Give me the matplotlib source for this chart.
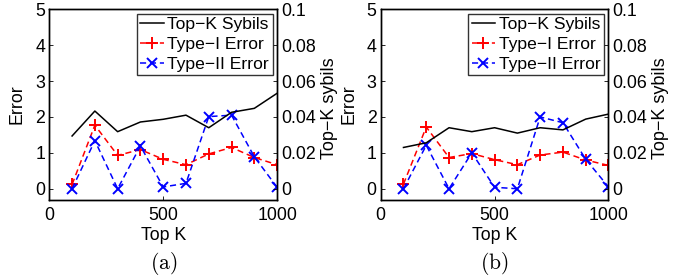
import matplotlib
matplotlib.use("Agg")
import matplotlib.pyplot as plt

plt.rcParams['font.family'] = ['Liberation Sans', 'DejaVu Sans']
plt.rcParams['mathtext.fontset'] = 'cm'

top_k = [100, 200, 300, 400, 500, 600, 700, 800, 900, 1000]

# Panel (a)
sybils_a = [0.0294, 0.0433, 0.0318, 0.0372, 0.0387, 0.0410, 0.0340, 0.0426, 0.0448, 0.0532]
type1_a = [0.12, 1.77, 0.93, 1.09, 0.82, 0.67, 0.97, 1.15, 0.87, 0.67]
type2_a = [0.00, 1.34, 0.00, 1.19, 0.05, 0.15, 2.01, 2.05, 0.89, 0.04]

# Panel (b)
sybils_b = [0.0230, 0.0256, 0.0340, 0.0318, 0.0340, 0.0310, 0.0340, 0.0328, 0.0388, 0.0416]
type1_b = [0.13, 1.72, 0.87, 0.98, 0.81, 0.67, 0.94, 1.02, 0.80, 0.65]
type2_b = [0.00, 1.21, 0.00, 1.00, 0.04, 0.00, 2.00, 1.84, 0.82, 0.05]

left_ticks = [0, 1, 2, 3, 4, 5]
right_ticks = [0, 0.02, 0.04, 0.06, 0.08, 0.1]
right_labels = ['0', '0.02', '0.04', '0.06', '0.08', '0.1']
x_ticks = [0, 500, 1000]
captions = ['(a)', '(b)']

fig = plt.figure(figsize=(6.91, 2.80), dpi=100)
lefts = [49.3 / 691, 380.7 / 691]
width = 227.8 / 691
bottom = (280 - 199.5) / 280
height = (199.5 - 9.3) / 280

panels = [(sybils_a, type1_a, type2_a), (sybils_b, type1_b, type2_b)]
fs = 12.8
for i, (syb, t1, t2) in enumerate(panels):
    ax = fig.add_axes([lefts[i], bottom, width, height])
    ax2 = ax.twinx()
    l0, = ax2.plot(top_k, syb, color='black', lw=1.1, label='Top\u2212K Sybils')
    l1, = ax.plot(top_k, t1, color='red', ls='--', lw=1.1, marker='+', ms=9, mew=1.4,
                  label='Type\u2212I Error', dashes=(4, 2.5))
    l2, = ax.plot(top_k, t2, color='blue', ls='--', lw=1.1, marker='x', ms=6.5, mew=1.4,
                  label='Type\u2212II Error', dashes=(4, 2.5))
    ax.set_xlim(0, 1000)
    ax.set_ylim(-0.3, 5)
    ax2.set_ylim(-0.006, 0.1)
    ax.set_yticks(left_ticks)
    ax.set_yticklabels([str(t) for t in left_ticks])
    ax2.set_yticks(right_ticks)
    ax2.set_yticklabels(right_labels)
    ax.set_xticks(x_ticks)
    ax.tick_params(direction='in', labelsize=fs, length=3, width=0.6, pad=3)
    ax.tick_params(axis='x', pad=5.5)
    ax2.tick_params(direction='in', labelsize=fs, length=3, width=0.6, pad=3)
    ax.set_xlabel('Top K', fontsize=fs)
    ax.xaxis.set_label_coords(0.5, -0.145)
    ax.set_ylabel('Error', fontsize=fs)
    ax.yaxis.set_label_coords(-0.14, 0.5)
    ax2.set_ylabel('Top\u2212K sybils', fontsize=13, va='center')
    ax2.yaxis.set_label_coords(1.228, 0.48)
    ax.yaxis.label.set_va('center')
    for s in ax.spines.values():
        s.set_linewidth(1.0)
    for s in ax2.spines.values():
        s.set_linewidth(1.0)
    leg = ax2.legend([l0, l1, l2], [l0.get_label(), l1.get_label(), l2.get_label()],
                     loc='upper right', fontsize=12.6, frameon=True, fancybox=False,
                     edgecolor='black', borderpad=0.2, labelspacing=0.25,
                     handlelength=1.36, handletextpad=0.2, borderaxespad=0.25)
    leg.get_frame().set_linewidth(1.0)
    ax.text(0.5, -0.334, r'$\mathrm{' + captions[i] + '}$', transform=ax.transAxes,
            ha='center', va='center', fontsize=15.5)

fig.savefig('out.png', dpi=100)
